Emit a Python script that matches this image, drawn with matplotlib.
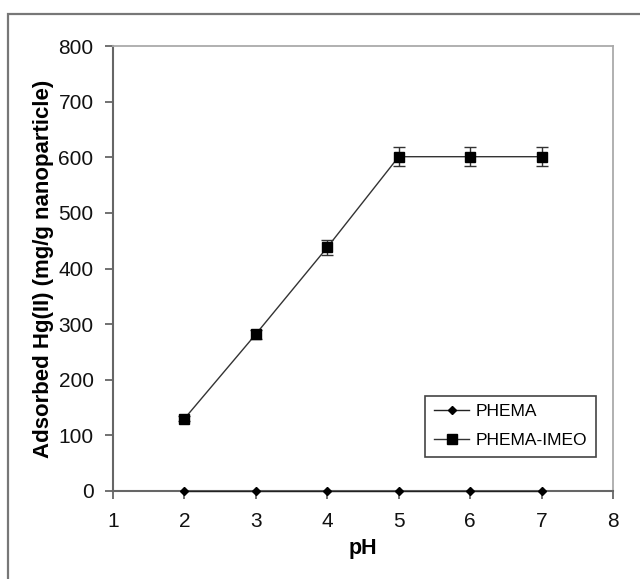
import matplotlib.pyplot as plt
from matplotlib.patches import Rectangle

plt.rcParams['font.family'] = ['Liberation Sans', 'DejaVu Sans']

ph = [2, 3, 4, 5, 6, 7]
phema = [0, 0, 0, 0, 0, 0]
phema_imeo = [130, 282, 438, 601, 601, 601]
imeo_err = [4, 8, 13, 17, 17, 17]

fig = plt.figure(figsize=(6.4, 5.79), dpi=100)
ax = fig.add_axes([113/640, 1 - 491/579, 500/640, 445/579])

# outer frame round the whole chart (runs off the right and bottom edges)
top = 1 - 14/579
fig.patches.append(Rectangle((8/640, -0.2), 1.2, top + 0.2, transform=fig.transFigure,
                             fill=False, edgecolor='#777777', linewidth=1.6))

ax.plot(ph, phema, color='#222222', lw=1.0, marker='D', markersize=4.5,
        markerfacecolor='black', markeredgecolor='black', label='PHEMA', clip_on=False, zorder=3)
ax.errorbar(ph, phema_imeo, yerr=imeo_err, fmt='none', ecolor='#333333', elinewidth=1.0,
            capsize=4, capthick=1.0, zorder=3)
ax.plot(ph, phema_imeo, color='#333333', lw=1.0, marker='s', markersize=6.5,
        markerfacecolor='black', markeredgecolor='black', label='PHEMA-IMEO', zorder=4)

ax.set_xlim(1, 8)
ax.set_ylim(0, 800)
ax.set_xticks(range(1, 9))
ax.set_yticks(range(0, 801, 100))

for s in ['left', 'bottom']:
    ax.spines[s].set_color('#666666')
    ax.spines[s].set_linewidth(1.5)
for s in ['top', 'right']:
    ax.spines[s].set_color('#aaaaaa')
    ax.spines[s].set_linewidth(1.3)

ax.tick_params(axis='both', direction='out', length=6, width=1.3, color='#666666',
               labelsize=15, labelcolor='#111111')
ax.tick_params(axis='x', pad=9)
ax.tick_params(axis='y', pad=8)

ax.set_xlabel('pH', fontsize=15.5, fontweight='bold', labelpad=5)
ax.set_ylabel('Adsorbed Hg(II) (mg/g nanoparticle)', fontsize=16, fontweight='bold', labelpad=3)

leg = ax.legend(loc='lower right', bbox_to_anchor=(0.966, 0.076), fontsize=12.5, fancybox=False,
                edgecolor='#444444', framealpha=1, handlelength=2.0, borderpad=0.5,
                labelspacing=0.8, handletextpad=0.4, borderaxespad=0)
leg.get_frame().set_linewidth(1.2)

fig.savefig('out.png', dpi=100)
